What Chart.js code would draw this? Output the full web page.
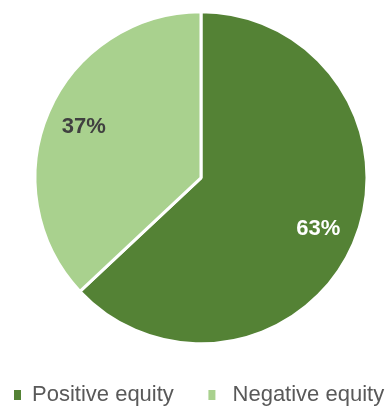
<!DOCTYPE html>
<html>
<head>
<meta charset="utf-8">
<script src="https://cdn.jsdelivr.net/npm/chart.js@4.4.0/dist/chart.umd.min.js"></script>
<style>
  html, body { margin: 0; padding: 0; background: #fff; }
  #wrap { width: 392px; height: 411px; }
</style>
</head>
<body>
<div id="wrap"><canvas id="equityPie"></canvas></div>
<script>
const categories = ['Positive equity', 'Negative equity'];
const shares = [63, 37];
const sliceColors = ['#548235', '#A9D18E'];
const labelColors = ['#FFFFFF', '#404040'];

// percentage text inside each slice
const sliceLabels = {
    id: 'sliceLabels',
    afterDatasetsDraw(chart) {
        const ctx = chart.ctx;
        const meta = chart.getDatasetMeta(0);
        ctx.save();
        ctx.font = 'bold 22px "Liberation Sans", Arial, sans-serif';
        ctx.textAlign = 'center';
        ctx.textBaseline = 'middle';
        meta.data.forEach((arc, i) => {
            const p = arc.getProps(['x', 'y', 'startAngle', 'endAngle', 'outerRadius'], true);
            const mid = (p.startAngle + p.endAngle) / 2;
            const r = p.outerRadius * 0.77;
            ctx.fillStyle = labelColors[i];
            ctx.fillText(shares[i] + '%', p.x + Math.cos(mid) * r, p.y + Math.sin(mid) * r);
        });
        ctx.restore();
    }
};

// drop the unused space under the legend row
const legendHeight = {
    id: 'legendHeight',
    beforeInit(chart) {
        const fit = chart.legend.fit;
        chart.legend.fit = function () {
            fit.bind(chart.legend)();
            this.height -= 5;
        };
    }
};

const ctx = document.getElementById('equityPie').getContext('2d');
const myChart = new Chart(ctx, {
    type: 'pie',
    data: {
        labels: categories,
        datasets: [{
            data: shares,
            backgroundColor: sliceColors,
            borderColor: '#FFFFFF',
            borderWidth: 3,
            radius: 166
        }]
    },
    options: {
        responsive: true,
        maintainAspectRatio: false,
        animation: false,
        layout: {
            padding: { top: 0, left: 10, right: 0, bottom: 0 }
        },
        plugins: {
            tooltip: { enabled: false },
            legend: {
                position: 'bottom',
                align: 'start',
                // empty title just to leave a gap above the legend row
                title: { display: true, text: '', font: { size: 12 }, padding: 5 },
                labels: {
                    boxWidth: 7,
                    boxHeight: 10,
                    padding: 4,
                    color: '#595959',
                    font: { family: '"Liberation Sans", Arial, sans-serif', size: 22 },
                    generateLabels(chart) {
                        const items = Chart.overrides.pie.plugins.legend.labels.generateLabels(chart);
                        items.forEach((item, i) => {
                            item.strokeStyle = sliceColors[i];
                            item.lineWidth = 0;
                        });
                        items[0].text = categories[0] + '     ';
                        items[1].text = ' ' + categories[1];
                        return items;
                    }
                }
            }
        }
    },
    plugins: [sliceLabels, legendHeight]
});
</script>
</body>
</html>
